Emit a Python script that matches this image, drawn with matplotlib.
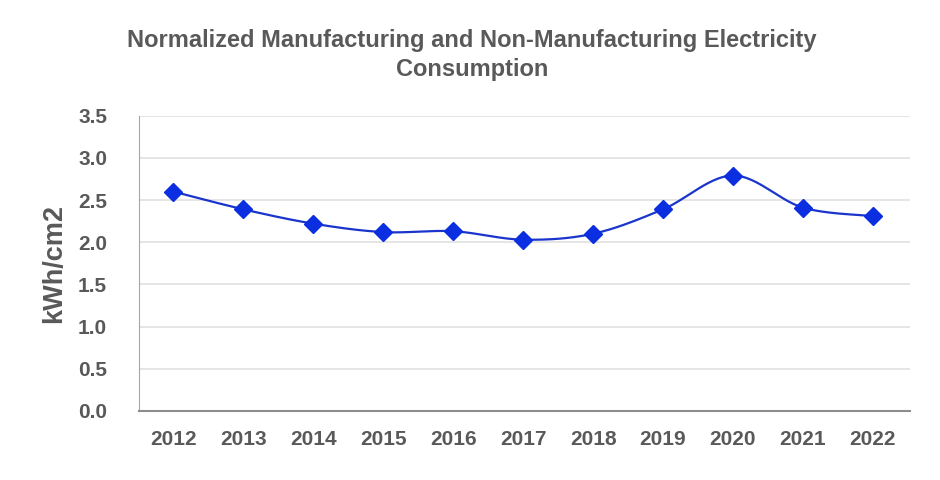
import numpy as np
import matplotlib
matplotlib.use("Agg")
from matplotlib import pyplot as plt

# data
years = ["2012", "2013", "2014", "2015", "2016", "2017", "2018", "2019", "2020", "2021", "2022"]
kwh_per_cm2 = [2.60, 2.39, 2.22, 2.12, 2.13, 2.03, 2.10, 2.39, 2.79, 2.41, 2.31]

plt.rcParams["font.family"] = ["Liberation Sans", "DejaVu Sans"]
grey = "#595959"


def smooth(xs, ys, n=30):
    # Excel-like smoothed line: cubic bezier segments with 1/6 tension control points
    xs = np.asarray(xs, float)
    ys = np.asarray(ys, float)
    px, py = [], []
    for i in range(len(xs) - 1):
        x0, y0 = xs[max(i - 1, 0)], ys[max(i - 1, 0)]
        x1, y1 = xs[i], ys[i]
        x2, y2 = xs[i + 1], ys[i + 1]
        x3, y3 = xs[min(i + 2, len(xs) - 1)], ys[min(i + 2, len(ys) - 1)]
        c1x, c1y = x1 + (x2 - x0) / 6, y1 + (y2 - y0) / 6
        c2x, c2y = x2 - (x3 - x1) / 6, y2 - (y3 - y1) / 6
        t = np.linspace(0, 1, n)
        a, b, c, d = (1 - t) ** 3, 3 * (1 - t) ** 2 * t, 3 * (1 - t) * t ** 2, t ** 3
        px.extend(a * x1 + b * c1x + c * c2x + d * x2)
        py.extend(a * y1 + b * c1y + c * c2y + d * y2)
    return px, py


fig = plt.figure(figsize=(9.4, 4.8), dpi=100)
ax = fig.add_axes([0.148, 0.144, 0.82, 0.615])

x = np.arange(len(years))
sx, sy = smooth(x, kwh_per_cm2)
ax.plot(sx, sy, color="#1a35cc", lw=1.6, zorder=3)
ax.plot(x, kwh_per_cm2, linestyle="none", marker="D", markersize=9,
        color="#0a2ee0", zorder=4)

ax.set_xlim(-0.49, 10.53)
ax.set_ylim(0, 3.5)
ax.set_yticks(np.arange(0, 3.51, 0.5))
ax.set_yticklabels([f"{v:.1f}" for v in np.arange(0, 3.51, 0.5)])
ax.set_xticks(x)
ax.set_xticklabels(years)
ax.tick_params(length=0, labelsize=15, labelcolor=grey)
ax.tick_params(axis="x", pad=14)
ax.tick_params(axis="y", pad=23)
for lab in ax.get_xticklabels() + ax.get_yticklabels():
    lab.set_fontweight("bold")

ax.grid(axis="y", color="#e0e0e0", lw=1.2)
ax.set_axisbelow(True)
for s in ["top", "right"]:
    ax.spines[s].set_visible(False)
ax.spines["left"].set_color("#a6a6a6")
ax.spines["bottom"].set_color("#8c8c8c")
ax.spines["bottom"].set_linewidth(1.5)

ax.set_ylabel("kWh/cm2", fontsize=19.5, fontweight="bold", color=grey, labelpad=8)
fig.text(0.502, 0.939, "Normalized Manufacturing and Non-Manufacturing Electricity\nConsumption",
         ha="center", va="top", fontsize=17, fontweight="bold", color=grey, linespacing=1.32)

fig.savefig("out.png", dpi=100, facecolor="white")
